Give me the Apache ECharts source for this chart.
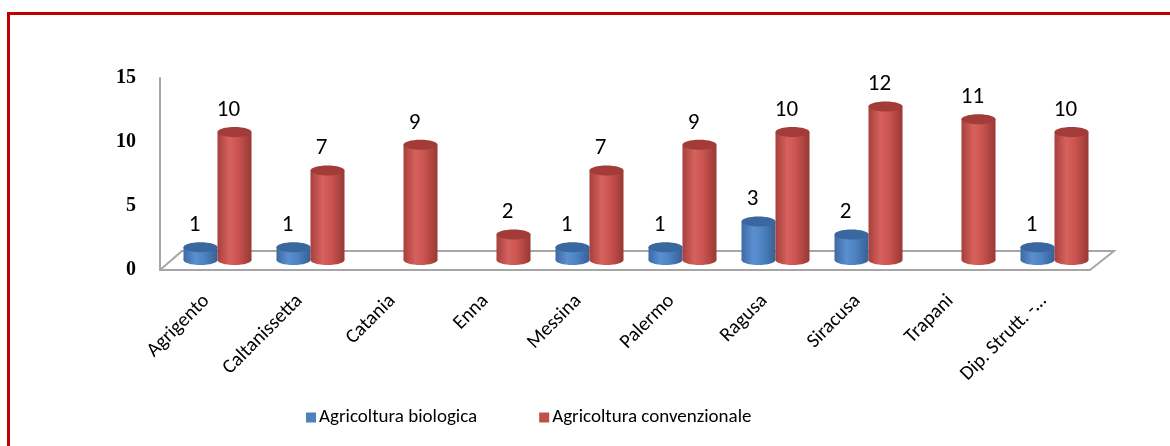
<!DOCTYPE html>
<html>
<head>
<meta charset="utf-8">
<script src="https://cdn.jsdelivr.net/npm/echarts@6/dist/echarts.min.js"></script>
<style>
  html, body { margin: 0; padding: 0; background: #fff; }
  #chart { width: 1170px; height: 446px; }
</style>
</head>
<body>
<div id="chart"></div>
<script>
const categories = ['Agrigento', 'Caltanissetta', 'Catania', 'Enna', 'Messina', 'Palermo', 'Ragusa', 'Siracusa', 'Trapani', 'Dip. Strutt. -…']
const biologica = [1, 1, 0, 0, 1, 1, 3, 2, 0, 1]
const convenzionale = [10, 7, 9, 2, 7, 9, 10, 12, 11, 10]
const yTicks = [0, 5, 10, 15]

const textFont = 'Carlito, "Liberation Sans Narrow", "Open Sans", sans-serif'

// grid of the front plane
const gridLeft = 160
const gridTop = 78
const gridWidth = 930
const gridHeight = 192
// the bars stand half way into the floor
const depthX = 11
const depthY = -10
const barW = 34

const palette = {
  blue: { stops: ['#3d6aa3', '#5a8fd0', '#4e84c4', '#375f94'], top: '#3b67a0', name: 'Agricoltura biologica', legend: '#4f81bd' },
  red: { stops: ['#a63f3c', '#d6625d', '#cb5450', '#983835'], top: '#a33c39', name: 'Agricoltura convenzionale', legend: '#c0504d' }
}

function cylinder(colors, offset) {
  return function (params, api) {
    const value = api.value(1)
    if (!value) {
      return
    }
    const top = api.coord([api.value(0), value])
    const base = api.coord([api.value(0), 0])
    const cx = top[0] + offset + depthX
    const topY = top[1] + depthY
    const baseY = base[1] + depthY
    const grad = new echarts.graphic.LinearGradient(0, 0, 1, 0, [
      { offset: 0, color: colors.stops[0] },
      { offset: 0.35, color: colors.stops[1] },
      { offset: 0.6, color: colors.stops[2] },
      { offset: 1, color: colors.stops[3] }
    ])
    return {
      type: 'group',
      children: [
        { type: 'ellipse', shape: { cx: cx, cy: baseY, rx: barW / 2, ry: 5 }, style: { fill: grad } },
        { type: 'rect', shape: { x: cx - barW / 2, y: topY, width: barW, height: baseY - topY }, style: { fill: grad } },
        { type: 'ellipse', shape: { cx: cx, cy: topY, rx: barW / 2, ry: 5 }, style: { fill: colors.top } },
        {
          type: 'text',
          style: {
            text: String(value),
            x: cx - 6,
            y: topY - 22,
            align: 'center',
            verticalAlign: 'middle',
            fill: '#000',
            font: '23px ' + textFont
          }
        }
      ]
    }
  }
}

const chart = echarts.init(document.getElementById('chart'))

chart.setOption({
  backgroundColor: '#fff',
  animation: false,
  grid: {
    left: gridLeft,
    top: gridTop,
    width: gridWidth,
    height: gridHeight
  },
  legend: {
    left: 301,
    top: 403,
    itemWidth: 10,
    itemHeight: 10,
    itemGap: 62,
    icon: 'rect',
    textStyle: { fontFamily: textFont, fontSize: 19, color: '#000', padding: [0, 0, 0, -2] },
    data: [
      { name: palette.blue.name, itemStyle: { color: palette.blue.legend } },
      { name: palette.red.name, itemStyle: { color: palette.red.legend } }
    ]
  },
  xAxis: {
    type: 'category',
    data: categories,
    axisTick: { show: false },
    axisLine: { lineStyle: { color: '#a6a6a6', width: 2 } },
    axisLabel: {
      rotate: 45,
      interval: 0,
      margin: 28,
      color: '#000',
      fontFamily: textFont,
      fontSize: 20
    }
  },
  yAxis: {
    type: 'value',
    min: yTicks[0],
    max: yTicks[yTicks.length - 1],
    interval: yTicks[1] - yTicks[0],
    splitLine: { show: false },
    axisTick: { show: false },
    axisLine: { show: true, lineStyle: { color: '#a6a6a6', width: 2 } },
    axisLabel: {
      margin: 24,
      color: '#000',
      fontFamily: '"Liberation Serif", "DejaVu Serif", serif',
      fontWeight: 'bold',
      fontSize: 20
    }
  },
  graphic: [
    {
      type: 'rect',
      shape: { x: 8.5, y: 13.5, width: 1300, height: 600 },
      style: { fill: 'none', stroke: '#c00000', lineWidth: 3 },
      silent: true
    },
    {
      type: 'polyline',
      shape: {
        points: [
          [gridLeft, gridTop + gridHeight],
          [gridLeft + 2 * depthX, gridTop + gridHeight + 2 * depthY + 1],
          [gridLeft + gridWidth + 2 * depthX + 2, gridTop + gridHeight + 2 * depthY + 1],
          [gridLeft + gridWidth, gridTop + gridHeight]
        ]
      },
      style: { fill: 'none', stroke: '#a6a6a6', lineWidth: 2 },
      z: 1,
      silent: true
    }
  ],
  series: [
    {
      name: palette.blue.name,
      type: 'custom',
      renderItem: cylinder(palette.blue, -barW / 2),
      encode: { x: 0, y: 1 },
      data: biologica.map((v, i) => [i, v]),
      z: 3
    },
    {
      name: palette.red.name,
      type: 'custom',
      renderItem: cylinder(palette.red, barW / 2),
      encode: { x: 0, y: 1 },
      data: convenzionale.map((v, i) => [i, v]),
      z: 3
    }
  ]
})
</script>
</body>
</html>
